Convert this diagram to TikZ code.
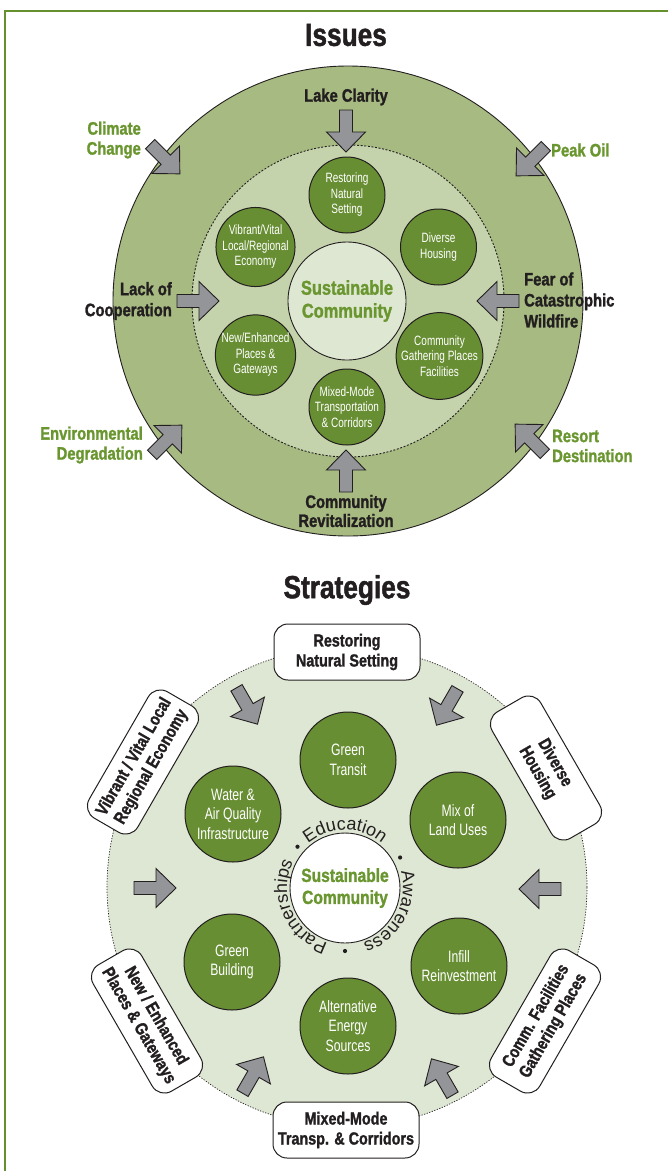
\documentclass[tikz,border=0pt]{standalone}
\usepackage{fontspec}
\setmainfont{Liberation Sans}
\newfontfamily\heavy{Liberation Sans}[FakeStretch=0.82, FakeBold=1.4]
\newfontfamily\lightf{Liberation Sans}[FakeStretch=0.74]
\newfontfamily\arcf{Liberation Sans}
\usetikzlibrary{decorations.text}
\definecolor{framegreen}{RGB}{100,145,45}
\definecolor{outergreen}{RGB}{166,186,129}
\definecolor{innergreen}{RGB}{197,211,172}
\definecolor{centerfill}{RGB}{222,231,209}
\definecolor{circgreen}{RGB}{104,142,51}
\definecolor{textgreen}{RGB}{106,150,48}
\definecolor{stratfill}{RGB}{222,231,211}
\definecolor{arrowgrey}{RGB}{147,149,153}
\definecolor{ink}{RGB}{35,31,32}
\tikzset{
  ring/.style={circle, draw=ink, line width=0.9pt, inner sep=0pt},
  smallc/.style={circle, draw=ink, line width=1pt, fill=circgreen, text=white, align=center, inner sep=0pt, minimum size=76pt, font=\lightf\fontsize{13.5}{15.5}\selectfont},
  bigcirc/.style={circle, draw=ink, line width=1pt, fill=circgreen, text=white, align=center, inner sep=0pt, minimum size=96pt, font=\lightf\fontsize{16.5}{19.5}\selectfont},
  lbl/.style={font=\heavy\bfseries\fontsize{18}{21}\selectfont, text=ink, inner sep=0pt},
  glbl/.style={font=\heavy\bfseries\fontsize{18}{20}\selectfont, text=textgreen, inner sep=0pt},
  title/.style={font=\heavy\bfseries\fontsize{32}{36}\selectfont, text=ink, inner sep=0pt},
  sbox/.style={draw=ink, line width=1pt, fill=white, rounded corners=14pt, minimum width=146pt, minimum height=56pt, align=center, inner sep=0pt, font=\heavy\bfseries\fontsize{17.5}{20}\selectfont, text=ink},
  blockarrow/.pic={\draw[draw=ink, line width=0.9pt, fill=arrowgrey, line join=miter] (-21,-6.5) -- (1,-6.5) -- (1,-19.5) -- (21,0) -- (1,19.5) -- (1,6.5) -- (-21,6.5) -- cycle;}
}
\begin{document}
\begin{tikzpicture}[x=1pt,y=-1pt]
\useasboundingbox (0,0) rectangle (668,1171);
% frame
\draw[framegreen, line width=2pt] (5,1180) -- (5,11) -- (680,11);

% ================= ISSUES =================
\node[title] (t1) at (346,35) {Issues};
\node[ring, fill=outergreen, minimum size=470pt] (outer) at (348,301) {};
\node[ring, fill=innergreen, minimum size=312pt, dash pattern=on 2pt off 1.6pt, line width=0.9pt] (inner) at (348,301) {};
\node[ring, fill=centerfill, minimum size=118pt, align=center, text=textgreen, font=\heavy\bfseries\fontsize{20}{23}\selectfont] (sc1) at (347,301) {Sustainable\\Community};

\node[smallc] (c1) at (347,195) {Restoring\\Natural\\Setting};
\node[smallc] (c2) at (255.5,247) {Vibrant/Vital\\Local/Regional\\Economy};
\node[smallc] (c3) at (438.5,247) {Diverse\\Housing};
\node[smallc] (c4) at (255.5,355) {New/Enhanced\\Places \&\\Gateways};
\node[smallc] (c5) at (439.5,356) {Community\\Gathering Places\\Facilities};
\node[smallc] (c6) at (347,407) {Mixed-Mode\\Transportation\\\& Corridors};

% issue arrows
\pic[rotate=-90] at (346,131) {blockarrow};
\pic[rotate=90] at (346,471) {blockarrow};
\pic[rotate=0] at (198,301) {blockarrow};
\pic[rotate=180] at (498,301) {blockarrow};
\pic[rotate=-45] at (165,159) {blockarrow};
\pic[rotate=-135] at (531,161) {blockarrow};
\pic[rotate=45] at (167,440) {blockarrow};
\pic[rotate=135] at (530,439) {blockarrow};

% issue labels
\node[lbl] (l1) at (346,97) {Lake Clarity};
\node[lbl, align=center, font=\heavy\bfseries\fontsize{18}{19}\selectfont] (l2) at (346,511) {Community\\Revitalization};
\node[lbl, anchor=east, align=right] (l3) at (172,301) {Lack of\\Cooperation};
\node[lbl, anchor=west, align=left] (l4) at (524,300) {Fear of\\Catastrophic\\Wildfire};
\node[glbl, anchor=east, align=right] (l5) at (141,140) {Climate\\Change};
\node[glbl, anchor=west] (l6) at (551,150) {Peak Oil};
\node[glbl, anchor=east, align=right] (l7) at (143,445) {Environmental\\Degradation};
\node[glbl, anchor=west, align=left] (l8) at (552,446) {Resort\\Destination};

% ================= STRATEGIES =================
\node[title] (t2) at (347,590) {Strategies};
\node[circle, draw=ink, line width=0.7pt, dash pattern=on 1.2pt off 1.5pt, fill=stratfill, minimum size=480pt, inner sep=0pt] (big) at (347,887) {};

\node[bigcirc] (g1) at (348,760) {Green\\Transit};
\node[bigcirc] (g2) at (233,814) {Water \&\\Air Quality\\Infrastructure};
\node[bigcirc] (g3) at (458,820) {Mix of\\Land Uses};
\node[bigcirc] (g4) at (232,962) {Green\\Building};
\node[bigcirc] (g5) at (459,966) {Infill\\Reinvestment};
\node[bigcirc] (g6) at (348,1026) {Alternative\\Energy\\Sources};

\node[ring, fill=white, minimum size=110pt, align=center, text=textgreen, font=\heavy\bfseries\fontsize{19}{22}\selectfont] (sc2) at (345,888) {Sustainable\\Community};

% text around the centre
\path[decorate, decoration={text along path, text align=center, text color=ink, text={|\arcf\fontsize{18}{18}\selectfont|Education}}] (345,888) ++(-152:58) arc[start angle=-152, end angle=-28, radius=58];
\path[decorate, decoration={text along path, text align=center, text color=ink, text={|\arcf\fontsize{18}{18}\selectfont|Awareness}}] (345,888) ++(-22:58) arc[start angle=-22, end angle=78, radius=58];
\path[decorate, decoration={text along path, text align=center, text color=ink, text={|\arcf\fontsize{18}{18}\selectfont|Partnerships}}] (345,888) ++(-262:58) arc[start angle=-262, end angle=-144, radius=58];
\fill[ink] (297.5,846.7) circle (2.1pt);
\fill[ink] (400.1,857.5) circle (2.1pt);
\fill[ink] (345,951) circle (2.1pt);

% strategy arrows
\pic[rotate=-60] at (247,706) {blockarrow};
\pic[rotate=-120] at (447,707) {blockarrow};
\pic[rotate=0] at (155,888) {blockarrow};
\pic[rotate=180] at (540,889) {blockarrow};
\pic[rotate=60] at (253,1075) {blockarrow};
\pic[rotate=120] at (442,1077) {blockarrow};

% boxes
\node[sbox] (b1) at (347,652) {Restoring\\Natural Setting};
\node[sbox] (b2) at (346,1130) {Mixed-Mode\\Transp. \& Corridors};
\node[sbox, rotate=60] (b3) at (143,762) {Vibrant / Vital Local\\Regional Economy};
\node[sbox, rotate=-60] (b4) at (546,768) {Diverse\\Housing};
\node[sbox, rotate=-60] (b5) at (147,1021) {New / Enhanced\\Places \& Gateways};
\node[sbox, rotate=60] (b6) at (545,1021) {Comm. Facilities\\Gathering Places};
\end{tikzpicture}
\end{document}
